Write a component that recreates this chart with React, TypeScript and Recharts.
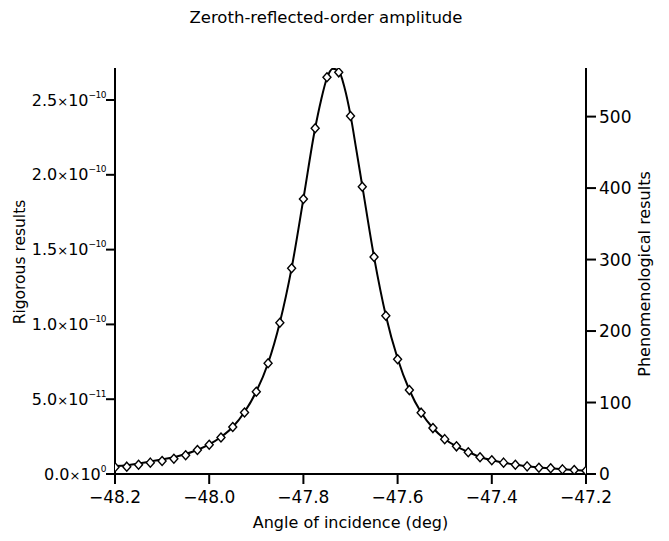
import { ComposedChart, Line, XAxis, YAxis } from 'recharts';

// angle of incidence (deg) of the rigorous points
const rigAngles = [
  -48.2, -48.175, -48.15, -48.125, -48.1, -48.075, -48.05, -48.025, -48.0, -47.975,
  -47.95, -47.925, -47.9, -47.875, -47.85, -47.825, -47.8, -47.775, -47.75, -47.725,
  -47.7, -47.675, -47.65, -47.625, -47.6, -47.575, -47.55, -47.525, -47.5, -47.475,
  -47.45, -47.425, -47.4, -47.375, -47.35, -47.325, -47.3, -47.275, -47.25, -47.225, -47.2,
];
// rigorous amplitude, units of 1e-10
const rigValues = [
  0.045, 0.049, 0.062, 0.076, 0.087, 0.102, 0.125, 0.16, 0.196, 0.244,
  0.314, 0.411, 0.55, 0.74, 1.011, 1.375, 1.838, 2.311, 2.652, 2.685,
  2.393, 1.92, 1.451, 1.058, 0.767, 0.561, 0.41, 0.307, 0.233, 0.185,
  0.145, 0.112, 0.092, 0.076, 0.062, 0.051, 0.042, 0.038, 0.031, 0.027, 0.022,
];

// phenomenological curve
const phenAngles = [
  -48.2, -48.175, -48.15, -48.125, -48.1, -48.075, -48.05, -48.025, -48.0, -47.975,
  -47.95, -47.925, -47.9, -47.875, -47.85, -47.825, -47.8, -47.775, -47.7625, -47.75,
  -47.7375, -47.725, -47.7125, -47.7, -47.6875, -47.675, -47.65, -47.625, -47.6, -47.575,
  -47.55, -47.525, -47.5, -47.475, -47.45, -47.425, -47.4, -47.375, -47.35, -47.325,
  -47.3, -47.275, -47.25, -47.225, -47.2,
];
const phenValues = [
  11.2, 12.2, 14.7, 17.5, 20.3, 23.5, 28, 33.6, 41.3, 51.7,
  65.7, 86.7, 115.4, 155, 212, 288, 385, 484, 523, 554,
  567, 564, 540, 502, 453, 403, 303.5, 221.7, 161.5, 117.5,
  86, 64.3, 49, 38.5, 30.8, 23.8, 19.2, 15.8, 13, 10.9,
  9.1, 8, 6.7, 5.6, 4.6,
];

const xTicks = [-48.2, -48.0, -47.8, -47.6, -47.4, -47.2];
const leftTicks = [0, 0.5e-10, 1.0e-10, 1.5e-10, 2.0e-10, 2.5e-10];
const rightTicks = [0, 100, 200, 300, 400, 500];

const rigData = rigAngles.map((x, i) => ({ x, rig: rigValues[i] * 1e-10 }));
const phenData = phenAngles.map((x, i) => ({ x, phen: phenValues[i] }));

const FONT = '"DejaVu Sans", sans-serif';

function Diamond(props: any) {
  const { cx, cy } = props;
  if (cx == null || cy == null) return null;
  const w = 4, h = 4.5;
  return (
    <path
      d={`M${cx},${cy - h}L${cx + w},${cy}L${cx},${cy + h}L${cx - w},${cy}Z`}
      fill="white"
      stroke="black"
      strokeWidth={1.4}
    />
  );
}

function SciTick(props: any) {
  const { y, payload } = props;
  const v = payload.value;
  let exp = 0;
  let mant = 0;
  if (v !== 0) {
    exp = Math.floor(Math.log10(v) + 1e-9);
    mant = v / Math.pow(10, exp);
  }
  const expStr = exp < 0 ? '\u2212' + Math.abs(exp) : String(exp);
  return (
    <text x={106} y={y} dy="0.35em" textAnchor="end" fontFamily={FONT} fontSize={16} fill="black">
      <tspan>{mant.toFixed(1)}</tspan>
      <tspan fontSize={13}>×</tspan>
      <tspan>10</tspan>
      <tspan dy={-8} fontSize={9} letterSpacing={-0.5}>{expStr}</tspan>
    </text>
  );
}

export default function App() {
  return (
    <div style={{ position: 'absolute', left: 0, top: 0, width: 669, height: 541, background: 'white' }}>
      <div
        style={{
          position: 'absolute', left: 0, top: 8, width: 652, textAlign: 'center',
          fontFamily: FONT, fontSize: 16.5, color: 'black',
        }}
      >
        Zeroth-reflected-order amplitude
      </div>
      <ComposedChart
        width={669}
        height={541}
        data={phenData}
        margin={{ top: 68, right: 0, left: 0, bottom: 0 }}
      >
        <XAxis
          type="number"
          dataKey="x"
          domain={[-48.2, -47.2]}
          ticks={xTicks}
          allowDataOverflow
          height={67}
          tickSize={10}
          tickMargin={7}
          tickFormatter={(v: number) => v.toFixed(1).replace('-', '\u2212')}
          stroke="black"
          strokeWidth={2}
          tick={{ fill: 'black', fontSize: 17, fontFamily: FONT }}
        />
        <YAxis
          yAxisId="left"
          orientation="left"
          width={115}
          domain={[0, 2.714e-10]}
          ticks={leftTicks}
          allowDataOverflow
          tickSize={9}
          stroke="black"
          strokeWidth={2}
          tick={<SciTick />}
        />
        <YAxis
          yAxisId="right"
          orientation="right"
          width={83}
          domain={[0, 568]}
          ticks={rightTicks}
          allowDataOverflow
          tickSize={10}
          tickMargin={3}
          stroke="black"
          strokeWidth={2}
          tick={{ fill: 'black', fontSize: 17, fontFamily: FONT }}
        />
        <Line
          yAxisId="right"
          data={phenData}
          dataKey="phen"
          type="monotone"
          stroke="black"
          strokeWidth={2}
          dot={false}
          isAnimationActive={false}
        />
        <Line
          yAxisId="left"
          data={rigData}
          dataKey="rig"
          stroke="none"
          dot={<Diamond />}
          isAnimationActive={false}
        />
      </ComposedChart>
      <div
        style={{
          position: 'absolute', left: 115, width: 471, top: 513, textAlign: 'center',
          fontFamily: FONT, fontSize: 16, color: 'black',
        }}
      >
        Angle of incidence (deg)
      </div>
      <div
        style={{
          position: 'absolute', left: 20, top: 262, width: 0, height: 0,
        }}
      >
        <div
          style={{
            position: 'absolute', transform: 'translate(-50%, -50%) rotate(-90deg)',
            whiteSpace: 'nowrap', fontFamily: FONT, fontSize: 15.5, color: 'black',
          }}
        >
          Rigorous results
        </div>
      </div>
      <div
        style={{
          position: 'absolute', left: 644, top: 274, width: 0, height: 0,
        }}
      >
        <div
          style={{
            position: 'absolute', transform: 'translate(-50%, -50%) rotate(-90deg)',
            whiteSpace: 'nowrap', fontFamily: FONT, fontSize: 16, color: 'black',
          }}
        >
          Phenomenological results
        </div>
      </div>
    </div>
  );
}
